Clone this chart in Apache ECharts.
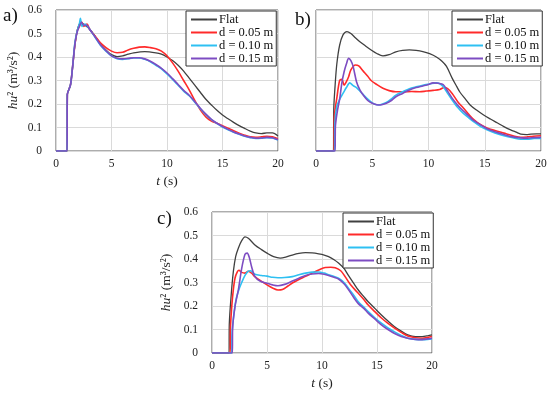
<!DOCTYPE html>
<html>
<head>
<meta charset="utf-8">
<script src="https://cdn.jsdelivr.net/npm/echarts@6/dist/echarts.min.js"></script>
<style>
html,body{margin:0;padding:0;background:#fff;}
#chart{width:550px;height:393px;}
</style>
</head>
<body>
<div id="chart"></div>
<script>
// ---- data: [t (s), hu^2 (m^3/s^2)] ----
const seriesNames = ['Flat', 'd = 0.05 m', 'd = 0.10 m', 'd = 0.15 m'];
const xTicks = [0, 5, 10, 15, 20];
const yTicks = [0, 0.1, 0.2, 0.3, 0.4, 0.5, 0.6];

const aFlat = [[0,0],[1.0,0],[1.02,0.24],[1.3,0.28],[1.5,0.36],[1.7,0.45],[1.9,0.51],[2.1,0.54],[2.3,0.545],[2.6,0.535],[3.0,0.52],[3.5,0.49],[4.0,0.455],[4.5,0.43],[5.0,0.41],[5.5,0.402],[6.0,0.405],[6.5,0.412],[7.0,0.418],[8.0,0.423],[9.0,0.418],[9.5,0.412],[10.0,0.40],[10.5,0.385],[11.0,0.365],[11.5,0.34],[12.0,0.31],[12.5,0.28],[13.0,0.25],[13.5,0.22],[14.0,0.196],[14.5,0.173],[15.0,0.153],[15.5,0.137],[16.0,0.122],[16.5,0.108],[17.0,0.096],[17.5,0.085],[18.0,0.077],[18.5,0.074],[19.0,0.077],[19.5,0.077],[20.0,0.064]];
const aD005 = [[0,0],[1.0,0],[1.02,0.24],[1.3,0.28],[1.5,0.36],[1.7,0.45],[1.9,0.51],[2.1,0.53],[2.3,0.55],[2.5,0.53],[2.8,0.54],[3.0,0.52],[3.5,0.49],[4.0,0.46],[4.5,0.44],[5.0,0.425],[5.5,0.418],[6.0,0.42],[6.5,0.43],[7.0,0.437],[7.5,0.442],[8.0,0.443],[8.5,0.44],[9.0,0.435],[9.5,0.425],[10.0,0.405],[10.5,0.375],[11.0,0.34],[11.5,0.30],[12.0,0.26],[12.5,0.215],[13.0,0.175],[13.5,0.145],[14.0,0.127],[14.5,0.118],[15.0,0.108],[15.5,0.097],[16.0,0.086],[16.5,0.076],[17.0,0.067],[17.5,0.06],[18.0,0.058],[18.5,0.06],[19.0,0.063],[19.5,0.06],[20.0,0.052]];
const aD010 = [[0,0],[1.0,0],[1.02,0.24],[1.3,0.28],[1.5,0.36],[1.7,0.46],[1.9,0.51],[2.1,0.54],[2.2,0.565],[2.35,0.53],[2.6,0.54],[3.0,0.52],[3.5,0.485],[4.0,0.45],[4.5,0.425],[5.0,0.405],[5.5,0.393],[6.0,0.39],[6.5,0.393],[7.0,0.396],[7.5,0.396],[8.0,0.39],[8.5,0.38],[9.0,0.365],[9.5,0.35],[10.0,0.328],[10.5,0.305],[11.0,0.28],[11.5,0.255],[12.0,0.235],[12.5,0.208],[13.0,0.18],[13.5,0.155],[14.0,0.133],[14.5,0.117],[15.0,0.102],[15.5,0.09],[16.0,0.08],[16.5,0.071],[17.0,0.063],[17.5,0.057],[18.0,0.053],[18.5,0.054],[19.0,0.057],[19.5,0.055],[20.0,0.047]];
const aD015 = [[0,0],[1.0,0],[1.02,0.24],[1.3,0.28],[1.5,0.36],[1.7,0.455],[1.9,0.505],[2.1,0.53],[2.3,0.548],[2.5,0.535],[2.8,0.535],[3.0,0.52],[3.5,0.487],[4.0,0.452],[4.5,0.427],[5.0,0.405],[5.5,0.395],[6.0,0.392],[6.5,0.394],[7.0,0.397],[7.5,0.397],[8.0,0.392],[8.5,0.382],[9.0,0.368],[9.5,0.352],[10.0,0.332],[10.5,0.308],[11.0,0.283],[11.5,0.258],[12.0,0.237],[12.5,0.21],[13.0,0.182],[13.5,0.157],[14.0,0.135],[14.5,0.118],[15.0,0.104],[15.5,0.092],[16.0,0.081],[16.5,0.072],[17.0,0.064],[17.5,0.058],[18.0,0.054],[18.5,0.055],[19.0,0.058],[19.5,0.056],[20.0,0.048]];

const bFlat = [[0,0],[1.55,0],[1.58,0.18],[1.7,0.28],[1.85,0.37],[2.1,0.45],[2.4,0.494],[2.75,0.508],[3.1,0.5],[3.5,0.482],[3.9,0.465],[4.4,0.447],[4.9,0.43],[5.4,0.415],[5.95,0.405],[6.5,0.41],[7.1,0.422],[7.7,0.428],[8.3,0.43],[8.9,0.428],[9.5,0.423],[10.1,0.414],[10.7,0.40],[11.2,0.382],[11.6,0.36],[12.1,0.31],[12.5,0.275],[12.8,0.25],[13.3,0.22],[13.7,0.196],[14.3,0.173],[14.9,0.153],[15.5,0.136],[16.1,0.12],[16.7,0.104],[17.3,0.09],[17.8,0.08],[18.2,0.072],[18.7,0.07],[19.1,0.072],[19.6,0.073],[20,0.073]];
const bD005 = [[0,0],[1.6,0],[1.62,0.14],[1.85,0.225],[2.1,0.30],[2.3,0.305],[2.5,0.28],[2.7,0.295],[2.9,0.316],[3.1,0.345],[3.5,0.366],[3.8,0.362],[4.2,0.34],[4.6,0.318],[4.9,0.30],[5.4,0.283],[5.95,0.267],[6.5,0.257],[7.1,0.252],[7.8,0.252],[8.5,0.253],[9.2,0.252],[9.8,0.255],[10.4,0.258],[11.0,0.262],[11.4,0.27],[11.7,0.265],[12.1,0.245],[12.6,0.21],[13.1,0.183],[13.6,0.155],[14.0,0.135],[14.6,0.113],[15.2,0.098],[15.9,0.087],[16.7,0.076],[17.5,0.065],[18.2,0.058],[18.8,0.06],[19.3,0.063],[20,0.065]];
const bD010 = [[0,0],[1.65,0],[1.68,0.12],[1.85,0.19],[2.1,0.22],[2.4,0.245],[2.7,0.27],[3.0,0.29],[3.3,0.278],[3.6,0.27],[4.0,0.25],[4.5,0.225],[5.0,0.205],[5.4,0.197],[5.7,0.197],[6.2,0.205],[6.7,0.222],[7.1,0.238],[7.7,0.252],[8.3,0.265],[8.9,0.273],[9.5,0.28],[10.1,0.285],[10.7,0.29],[11.0,0.286],[11.3,0.275],[11.7,0.245],[12.1,0.217],[12.6,0.185],[13.1,0.16],[13.6,0.14],[14.0,0.125],[14.6,0.105],[15.2,0.09],[15.9,0.077],[16.7,0.065],[17.5,0.056],[18.2,0.05],[18.8,0.05],[19.4,0.053],[20,0.053]];
const bD015 = [[0,0],[1.7,0],[1.72,0.1],[1.9,0.17],[2.1,0.22],[2.3,0.29],[2.5,0.337],[2.7,0.37],[2.9,0.394],[3.1,0.385],[3.3,0.36],[3.6,0.295],[3.9,0.26],[4.2,0.238],[4.6,0.215],[5.0,0.203],[5.4,0.197],[5.7,0.196],[6.2,0.202],[6.7,0.215],[7.1,0.231],[7.7,0.245],[8.3,0.26],[8.9,0.27],[9.5,0.277],[10.0,0.283],[10.4,0.29],[10.9,0.288],[11.3,0.283],[11.7,0.255],[12.1,0.225],[12.6,0.195],[13.1,0.17],[13.6,0.148],[14.0,0.13],[14.6,0.112],[15.2,0.095],[15.9,0.082],[16.7,0.07],[17.5,0.06],[18.2,0.056],[18.8,0.055],[19.4,0.057],[20,0.058]];

const cFlat = [[0,0],[1.55,0],[1.57,0.12],[1.75,0.25],[1.94,0.346],[2.15,0.41],[2.4,0.447],[2.7,0.478],[3.0,0.494],[3.3,0.488],[3.9,0.46],[4.5,0.44],[5.0,0.425],[5.6,0.41],[6.2,0.404],[6.7,0.408],[7.3,0.417],[7.9,0.424],[8.5,0.427],[9.1,0.426],[9.7,0.422],[10.2,0.417],[10.6,0.41],[11.1,0.397],[11.5,0.383],[12.0,0.36],[12.4,0.33],[12.9,0.295],[13.3,0.268],[13.8,0.24],[14.2,0.218],[14.8,0.19],[15.4,0.162],[16.0,0.136],[16.6,0.112],[17.2,0.093],[17.8,0.077],[18.5,0.07],[19.1,0.07],[19.6,0.073],[20,0.077]];
const cD005 = [[0,0],[1.65,0],[1.67,0.1],[1.8,0.2],[1.94,0.27],[2.1,0.32],[2.3,0.345],[2.45,0.352],[2.7,0.343],[3.0,0.34],[3.3,0.348],[3.6,0.34],[3.9,0.325],[4.5,0.305],[5.0,0.29],[5.5,0.277],[6.0,0.268],[6.4,0.27],[6.9,0.285],[7.3,0.298],[7.9,0.313],[8.5,0.326],[9.1,0.34],[9.7,0.353],[10.3,0.364],[10.8,0.365],[11.2,0.363],[11.7,0.35],[12.1,0.325],[12.6,0.29],[13.3,0.254],[13.8,0.228],[14.2,0.204],[14.8,0.176],[15.4,0.149],[16.0,0.126],[16.6,0.106],[17.2,0.088],[17.8,0.072],[18.5,0.065],[19.1,0.063],[19.6,0.066],[20,0.07]];
const cD010 = [[0,0],[1.8,0],[1.82,0.08],[2.0,0.17],[2.2,0.23],[2.45,0.27],[2.7,0.30],[3.0,0.33],[3.3,0.348],[3.5,0.35],[3.9,0.335],[4.5,0.33],[5.0,0.327],[5.5,0.322],[6.0,0.32],[6.6,0.321],[7.3,0.325],[7.9,0.333],[8.5,0.34],[9.1,0.344],[9.7,0.345],[10.2,0.34],[10.6,0.333],[11.1,0.326],[11.5,0.318],[12.0,0.3],[12.4,0.276],[12.9,0.245],[13.3,0.218],[13.8,0.195],[14.2,0.176],[14.8,0.15],[15.4,0.127],[16.0,0.107],[16.6,0.09],[17.2,0.075],[17.8,0.063],[18.5,0.058],[19.1,0.057],[19.6,0.058],[20,0.06]];
const cD015 = [[0,0],[1.85,0],[1.87,0.1],[2.1,0.2],[2.4,0.27],[2.7,0.36],[3.0,0.42],[3.2,0.425],[3.4,0.405],[3.6,0.367],[3.9,0.325],[4.4,0.305],[5.0,0.297],[5.5,0.29],[6.0,0.286],[6.6,0.292],[7.3,0.306],[7.9,0.318],[8.5,0.33],[9.1,0.336],[9.7,0.338],[10.2,0.335],[10.6,0.33],[11.1,0.322],[11.5,0.315],[12.0,0.295],[12.4,0.27],[12.9,0.235],[13.3,0.21],[13.8,0.19],[14.2,0.17],[14.8,0.145],[15.4,0.12],[16.0,0.1],[16.6,0.083],[17.2,0.07],[17.8,0.063],[18.5,0.058],[19.1,0.057],[19.6,0.06],[20,0.063]];

const panelLabels = ['a)', 'b)', 'c)'];
const xTitle = '{i|t} (s)';
const yTitle = '{i|hu}² (m³/s²)';

// ---- styles ----
const colors = ['#404040', '#ff2a2a', '#2ec0f2', '#7d4cc2'];
const widths = [1.3, 1.6, 1.6, 1.6];
const FONT = '"Liberation Serif", "Times New Roman", serif';

const panels = [
  { data: [aFlat, aD005, aD010, aD015], grid: {left: 56, top: 10, width: 222, height: 141}, yLabels: true, legend: {left: 186, top: 11}, label: {x: 3, y: 7}, yGap: 36 },
  { data: [bFlat, bD005, bD010, bD015], grid: {left: 316, top: 10, width: 225, height: 141}, yLabels: false, legend: {left: 452, top: 11}, label: {x: 295, y: 11}, yGap: 36 },
  { data: [cFlat, cD005, cD010, cD015], grid: {left: 212, top: 212, width: 220, height: 141}, yLabels: true, legend: {left: 343, top: 213}, label: {x: 157, y: 210}, yGap: 39 }
];

const grids = [], xAxes = [], yAxes = [], series = [], legends = [], graphics = [];
const richItalic = { i: { fontFamily: FONT, fontSize: 13.5, fontStyle: 'italic', color: '#222' } };
panels.forEach((p, i) => {
  grids.push(Object.assign({ show: true, borderColor: '#5a5a5a', borderWidth: 1, backgroundColor: '#fff' }, p.grid));
  xAxes.push({
    type: 'value', gridIndex: i, min: xTicks[0], max: xTicks[xTicks.length - 1], interval: xTicks[1] - xTicks[0],
    axisLine: { show: false }, axisTick: { show: false },
    splitLine: { show: true, lineStyle: { color: '#dadada', width: 1 } },
    axisLabel: { fontFamily: FONT, fontSize: 11.5, color: '#222', margin: 7 },
    name: i === 1 ? '' : xTitle, nameLocation: 'middle', nameGap: 23,
    nameTextStyle: { fontFamily: FONT, fontSize: 13.5, color: '#222', rich: richItalic }
  });
  yAxes.push({
    type: 'value', gridIndex: i, min: yTicks[0], max: yTicks[yTicks.length - 1], interval: 0.1,
    axisLine: { show: false }, axisTick: { show: false },
    splitLine: { show: true, lineStyle: { color: '#dadada', width: 1 } },
    axisLabel: { show: p.yLabels, fontFamily: FONT, fontSize: 11.5, color: '#222', margin: 14, formatter: v => String(Math.round(v * 10) / 10) },
    name: p.yLabels ? yTitle : '', nameLocation: 'middle', nameGap: p.yGap, nameRotate: 90,
    nameTextStyle: { fontFamily: FONT, fontSize: 13.5, color: '#222', rich: richItalic }
  });
  p.data.forEach((d, k) => {
    series.push({
      type: 'line', name: seriesNames[k], xAxisIndex: i, yAxisIndex: i, data: d,
      symbol: 'none', showSymbol: false, smooth: 0.3, animation: false,
      lineStyle: { color: colors[k], width: widths[k] }, itemStyle: { color: colors[k] },
      z: 2 + k
    });
  });
  legends.push({
    left: p.legend.left, top: p.legend.top, orient: 'vertical',
    data: seriesNames.map((n, k) => ({ name: n, icon: 'rect', itemStyle: { color: colors[k] } })),
    selectedMode: false, itemWidth: 26, itemHeight: 2, itemGap: 0,
    padding: [2, 3, 1, 5], borderColor: '#333', borderWidth: 1, backgroundColor: '#fff',
    textStyle: { fontFamily: FONT, fontSize: 12.5, lineHeight: 12, color: '#111', padding: [0, 0, 0, -3] }
  });
  graphics.push({
    type: 'text', left: p.label.x, top: p.label.y,
    style: { text: panelLabels[i], font: '19px ' + FONT, fill: '#111' }
  });
});

const chart = echarts.init(document.getElementById('chart'), null, { renderer: 'canvas' });
chart.setOption({
  backgroundColor: '#fff',
  animation: false,
  grid: grids, xAxis: xAxes, yAxis: yAxes, series: series, legend: legends, graphic: graphics
});
</script>
</body>
</html>
